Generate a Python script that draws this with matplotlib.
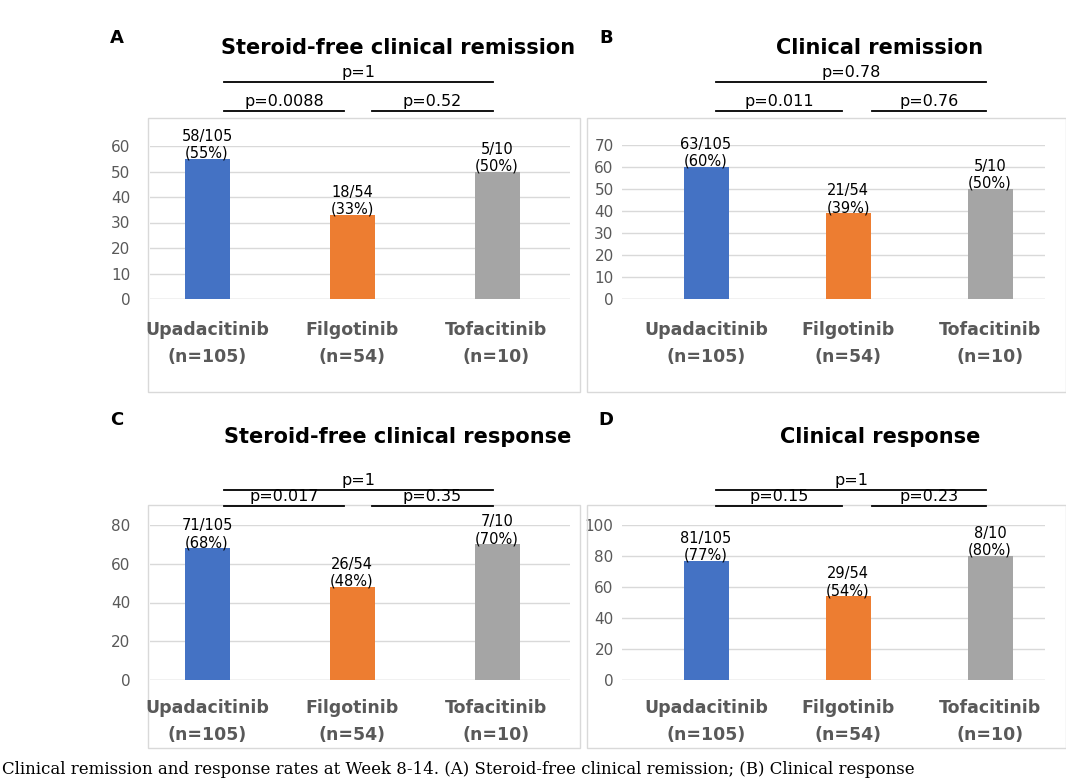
import matplotlib
matplotlib.use("Agg")
import matplotlib.pyplot as plt
from matplotlib.lines import Line2D
from matplotlib.patches import Rectangle

W, H = 1066, 781
categories = ["Upadacitinib\n(n=105)", "Filgotinib\n(n=54)", "Tofacitinib\n(n=10)"]
colors = ["#4472C4", "#ED7D31", "#A5A5A5"]

titles = ["Steroid-free clinical remission", "Clinical remission",
          "Steroid-free clinical response", "Clinical response"]
letters = ["A", "B", "C", "D"]
values = [[55, 33, 50], [60, 39, 50], [68, 48, 70], [77, 54, 80]]
labels = [["58/105\n(55%)", "18/54\n(33%)", "5/10\n(50%)"],
          ["63/105\n(60%)", "21/54\n(39%)", "5/10\n(50%)"],
          ["71/105\n(68%)", "26/54\n(48%)", "7/10\n(70%)"],
          ["81/105\n(77%)", "29/54\n(54%)", "8/10\n(80%)"]]
pvals = [["p=0.0088", "p=0.52", "p=1"], ["p=0.011", "p=0.76", "p=0.78"],
         ["p=0.017", "p=0.35", "p=1"], ["p=0.15", "p=0.23", "p=1"]]
ymax = [60, 70, 80, 100]
ystep = [10, 10, 20, 20]

fig = plt.figure(figsize=(W/100, H/100), dpi=100)
def fx(x): return x / W
def fy(y): return 1 - y / H

layouts = [
    dict(frame=(148, 118, 580, 392), ax=(150, 570), y0=299, ytop=146, cx=(207, 352, 496),
         tcx=398, ty=48, lx=117, ly=38, top=82, low=111, lab=(330, 357),
         br=((224, 344), (372, 493), (224, 493)), pad=14),
    dict(frame=(587, 118, 1066, 392), ax=(622, 1045), y0=299, ytop=145, cx=(706, 848, 990),
         tcx=880, ty=48, lx=606, ly=38, top=82, low=111, lab=(330, 357),
         br=((716, 842), (872, 986), (716, 986)), pad=6),
    dict(frame=(148, 505, 580, 748), ax=(150, 570), y0=680, ytop=525, cx=(207, 352, 496),
         tcx=398, ty=437, lx=117, ly=420, top=490, low=506, lab=(708, 735),
         br=((224, 344), (372, 493), (224, 493)), pad=14),
    dict(frame=(587, 505, 1066, 748), ax=(622, 1045), y0=680, ytop=525, cx=(706, 848, 990),
         tcx=880, ty=437, lx=606, ly=420, top=490, low=506, lab=(708, 735),
         br=((716, 842), (872, 986), (716, 986)), pad=6),
]

for i, L in enumerate(layouts):
    x0, y0f, x1, y1f = L["frame"]
    fig.patches.append(Rectangle((fx(x0), fy(y1f)), fx(x1 - x0), (y1f - y0f) / H,
                                 transform=fig.transFigure, fill=False,
                                 edgecolor="#d9d9d9", linewidth=1))
    ax = fig.add_axes([fx(L["ax"][0]), fy(L["y0"]), fx(L["ax"][1] - L["ax"][0]),
                       (L["y0"] - L["ytop"]) / H])
    sp = L["cx"][1] - L["cx"][0]
    ax.set_xlim((L["ax"][0] - L["cx"][0]) / sp, (L["ax"][1] - L["cx"][0]) / sp)
    ax.set_ylim(0, ymax[i])
    ax.bar(range(3), values[i], width=45 / sp, color=colors, zorder=3)
    ax.set_yticks(range(0, ymax[i] + 1, ystep[i]))
    ax.tick_params(axis="y", length=0, labelsize=11, labelcolor="#595959", pad=L["pad"])
    ax.set_xticks([])
    ax.grid(axis="y", color="#d9d9d9", linewidth=1, zorder=0)
    for s in ax.spines.values():
        s.set_visible(False)
    ax.axhline(0, color="#d9d9d9", linewidth=1, zorder=2)
    for j in range(3):
        ax.text(j, values[i][j] - ymax[i] * 0.012, labels[i][j], ha="center", va="bottom",
                fontsize=10.5, color="black", linespacing=1.15, zorder=4, clip_on=False)
        name, n = categories[j].split("\n")
        fig.text(fx(L["cx"][j]), fy(L["lab"][0]), name, ha="center", va="center",
                 fontsize=12.5, fontweight="bold", color="#595959")
        fig.text(fx(L["cx"][j]), fy(L["lab"][1]), n, ha="center", va="center",
                 fontsize=12.5, fontweight="bold", color="#595959")
    fig.text(fx(L["tcx"]), fy(L["ty"]), titles[i], ha="center", va="center",
             fontsize=15, fontweight="bold")
    fig.text(fx(L["lx"]), fy(L["ly"]), letters[i], ha="center", va="center",
             fontsize=13, fontweight="bold")
    for k, (a, b) in enumerate(L["br"]):
        yl = L["low"] if k < 2 else L["top"]
        fig.lines.append(Line2D([fx(a), fx(b)], [fy(yl), fy(yl)], color="black",
                                linewidth=1.3, transform=fig.transFigure))
        fig.text(fx((a + b) / 2), fy(yl - 2), pvals[i][k], ha="center", va="bottom",
                 fontsize=11.5)

fig.text(fx(2), fy(770), "Clinical remission and response rates at Week 8-14. (A) Steroid-free clinical remission; (B) Clinical response",
         ha="left", va="center", fontsize=12, family="DejaVu Serif")
fig.savefig("out.png", dpi=100)
